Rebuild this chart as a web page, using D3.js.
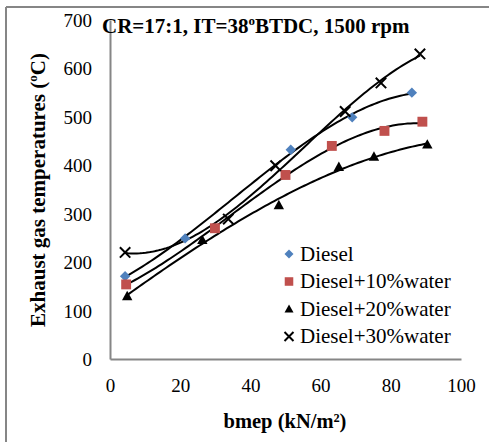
<!DOCTYPE html>
<html>
<head>
<meta charset="utf-8">
<script src="https://cdn.jsdelivr.net/npm/d3@7"></script>
<style>
  html, body { margin: 0; padding: 0; background: #fff; }
  svg { display: block; }
  svg text { font-family: "Liberation Serif", "Times New Roman", Times, serif !important; }
</style>
</head>
<body>
<svg id="chart" width="489" height="442"></svg>
<script>
// ---- data ----
const seriesNames = ["Diesel", "Diesel+10%water", "Diesel+20%water", "Diesel+30%water"];
const dieselX = [4.3, 21.4, 51.5, 69, 86];
const dieselY = [171, 249, 432, 499, 550];
const water10X = [4.6, 29.9, 50, 63.2, 78.2, 89];
const water10Y = [154, 270, 380, 440, 471, 490];
const water20X = [4.9, 26.3, 48.1, 65.2, 75.2, 90.4];
const water20Y = [130, 246, 318, 397, 418, 443];
const water30X = [4.3, 33.7, 47.2, 67, 77.2, 88.3];
const water30Y = [220, 289, 399, 511, 570, 630];
const xTicks = [0, 20, 40, 60, 80, 100];
const yTicks = [0, 100, 200, 300, 400, 500, 600, 700];
const titleText = "CR=17:1, IT=38";
const titleText2 = "BTDC, 1500 rpm";

const svg = d3.select("#chart");
const x = d3.scaleLinear().domain([0, 100]).range([110, 461]);
const y = d3.scaleLinear().domain([0, 700]).range([359, 20]);
const gray = "#868686";

// outer frame (left and top visible)
svg.append("line").attr("x1", 6).attr("x2", 6).attr("y1", 7).attr("y2", 442).attr("stroke", gray).attr("stroke-width", 2);
svg.append("line").attr("x1", 6).attr("x2", 489).attr("y1", 7).attr("y2", 7).attr("stroke", gray).attr("stroke-width", 2);

// axes
const xAxis = svg.append("g").attr("transform", `translate(0,${y(0)})`)
  .call(d3.axisBottom(x).tickValues(xTicks).tickSize(0).tickPadding(0).tickSizeOuter(0));
xAxis.attr("font-family", null);
xAxis.select(".domain").attr("stroke", gray).attr("stroke-width", 2);
xAxis.selectAll("text").attr("font-size", 19).attr("fill", "#000").attr("y", 33).attr("dy", 0);

const yAxis = svg.append("g").attr("transform", `translate(${x(0)},0)`)
  .call(d3.axisLeft(y).tickValues(yTicks).tickSize(0).tickPadding(18).tickSizeOuter(0));
yAxis.attr("font-family", null);
yAxis.select(".domain").attr("stroke", gray).attr("stroke-width", 2);
yAxis.selectAll("text").attr("font-size", 19).attr("fill", "#000").attr("dy", "0.34em");

// axis titles
svg.append("text").attr("x", 285).attr("y", 428).attr("text-anchor", "middle")
  .attr("font-size", 20.5).attr("font-weight", "bold").text("bmep (kN/m²)");
const yl = svg.append("text").attr("transform", "translate(45,190) rotate(-90)")
  .attr("text-anchor", "middle").attr("font-size", 21).attr("font-weight", "bold");
yl.append("tspan").text("Exhaust gas temperatures (");
yl.append("tspan").attr("font-size", 13).attr("dy", -8).text("o");
yl.append("tspan").attr("dy", 8).text("C)");

// title
const t = svg.append("text").attr("x", 102).attr("y", 33).attr("font-size", 21).attr("font-weight", "bold");
t.append("tspan").text(titleText);
t.append("tspan").attr("font-size", 13).attr("dy", -8).text("o");
t.append("tspan").attr("dy", 8).text(titleText2);

// cubic least-squares trendline
function polyfit(xs, ys, deg) {
  const n = deg + 1;
  const A = Array.from({length: n}, () => new Array(n + 1).fill(0));
  for (let i = 0; i < xs.length; i++) {
    for (let r = 0; r < n; r++) {
      for (let c = 0; c < n; c++) A[r][c] += Math.pow(xs[i], r + c);
      A[r][n] += ys[i] * Math.pow(xs[i], r);
    }
  }
  for (let i = 0; i < n; i++) {
    let m = i;
    for (let k = i + 1; k < n; k++) if (Math.abs(A[k][i]) > Math.abs(A[m][i])) m = k;
    [A[i], A[m]] = [A[m], A[i]];
    for (let k = i + 1; k < n; k++) {
      const f = A[k][i] / A[i][i];
      for (let j = i; j <= n; j++) A[k][j] -= f * A[i][j];
    }
  }
  const coef = new Array(n).fill(0);
  for (let i = n - 1; i >= 0; i--) {
    let s = A[i][n];
    for (let j = i + 1; j < n; j++) s -= A[i][j] * coef[j];
    coef[i] = s / A[i][i];
  }
  return coef;
}

const series = [
  {xs: dieselX, ys: dieselY, shape: "diamond"},
  {xs: water10X, ys: water10Y, shape: "square"},
  {xs: water20X, ys: water20Y, shape: "triangle"},
  {xs: water30X, ys: water30Y, shape: "cross"}
];

const line = d3.line().x(d => x(d[0])).y(d => y(d[1])).curve(d3.curveLinear);
series.forEach(s => {
  const c = polyfit(s.xs, s.ys, 3);
  const x0 = d3.min(s.xs), x1 = d3.max(s.xs);
  const pts = d3.range(0, 101).map(i => {
    const xv = x0 + (x1 - x0) * i / 100;
    return [xv, c[0] + c[1] * xv + c[2] * xv * xv + c[3] * xv * xv * xv];
  });
  svg.append("path").attr("d", line(pts)).attr("fill", "none").attr("stroke", "#000").attr("stroke-width", 2);
});

function drawMarker(g, shape, cx, cy, s) {
  if (shape === "diamond") {
    g.append("path").attr("d", `M${cx},${cy-s}L${cx+s},${cy}L${cx},${cy+s}L${cx-s},${cy}Z`).attr("fill", "#4F81BD");
  } else if (shape === "square") {
    const h = s * 0.95;
    g.append("rect").attr("x", cx - h).attr("y", cy - h).attr("width", 2 * h).attr("height", 2 * h).attr("fill", "#C0504D");
  } else if (shape === "triangle") {
    g.append("path").attr("d", `M${cx},${cy-s}L${cx+s},${cy+s*0.8}L${cx-s},${cy+s*0.8}Z`).attr("fill", "#000");
  } else {
    g.append("path").attr("d", `M${cx-s},${cy-s}L${cx+s},${cy+s}M${cx-s},${cy+s}L${cx+s},${cy-s}`)
      .attr("stroke", "#000").attr("stroke-width", 2).attr("fill", "none");
  }
}

const mg = svg.append("g");
series.forEach(s => s.xs.forEach((xv, i) => drawMarker(mg, s.shape, x(xv), y(s.ys[i]), 5.2)));

// legend
const lg = svg.append("g");
const legendY = [254, 281.5, 309, 336.5];
seriesNames.forEach((name, i) => {
  drawMarker(lg, series[i].shape, 289, legendY[i], 4.5);
  lg.append("text").attr("x", 300).attr("y", legendY[i]).attr("dy", "0.33em").attr("font-size", 21).text(name);
});
</script>
</body>
</html>
